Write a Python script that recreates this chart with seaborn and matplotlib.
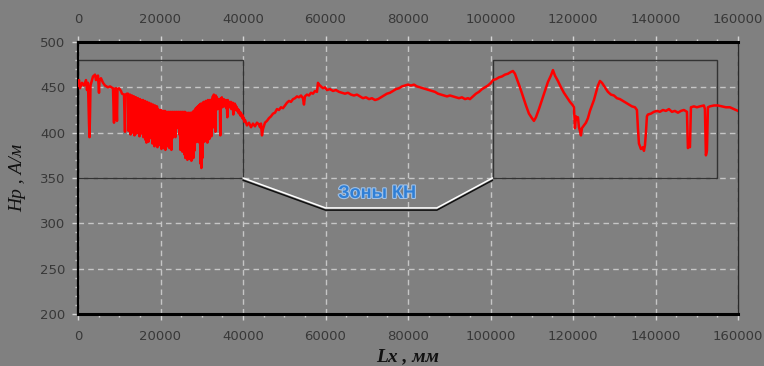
import numpy as np
import pandas as pd
import matplotlib
matplotlib.use("Agg")
import matplotlib.pyplot as plt
import matplotlib.patheffects as pe
from matplotlib.patches import Rectangle
from matplotlib.ticker import MultipleLocator
import seaborn as sns

# ---------------- data ----------------
head_mm = [0, 240, 480, 970, 1450, 1940, 2180, 2420, 2670, 2790,
           2910, 3030, 3390, 3640, 4120, 4360, 4600, 4850, 5090, 5210,
           5570, 6060, 6550, 7270, 7760, 8480, 8730, 8850, 9210, 9450,
           9570, 9940, 10420, 10670, 11150, 11390, 11510, 11880]
head_hp = [452, 458, 449, 455, 452, 458, 447, 455, 410, 395,
           420, 452, 458, 462, 464, 458, 461, 463, 444, 458,
           460, 455, 452, 450, 451, 449, 411, 448, 449, 413,
           448, 449, 446, 443, 442, 401, 442, 443]

# densely spiked section: one reading pair (upper / lower) per sample step
dense_start_mm = 12120
dense_step_mm = 242
dense_top = [443, 441, 442, 440, 441, 439, 440, 438, 439, 437, 438, 436,
             437, 436, 435, 436, 434, 435, 433, 434, 432, 433,
             431, 432, 430, 431, 429, 430, 428, 429, 426, 425,
             424, 425, 423, 424, 423, 424, 422, 423, 422, 423,
             422, 423, 422, 423, 422, 423, 422, 423, 422, 423,
             422, 423, 422, 423, 422, 423, 421, 422, 421, 422,
             421, 422, 421, 423, 424, 425, 427, 428, 429, 430,
             431, 432, 431, 433, 434, 433, 435, 434, 436, 435,
             436, 435, 437, 440, 442, 438, 441, 439, 437, 436,
             437, 438, 439, 436, 437, 435, 436, 434, 436, 434,
             433, 434, 432, 433, 431, 432, 430, 428, 426, 425,
             423, 422, 420, 419, 416]
dense_low = [402, 405, 398, 404, 400, 406, 397, 403, 399, 407, 401, 396,
             404, 399, 402, 395, 400, 392, 389, 398, 390, 401,
             394, 399, 388, 396, 385, 393, 390, 384, 398, 387,
             386, 382, 390, 383, 388, 381, 392, 385, 395, 383,
             389, 381, 394, 410, 418, 395, 415, 405, 419, 398,
             381, 386, 379, 390, 376, 372, 380, 370, 375, 371,
             378, 369, 376, 372, 380, 389, 395, 390, 398, 389,
             366, 361, 372, 395, 390, 400, 392, 389, 398, 393,
             402, 396, 405, 432, 428, 401, 425, 433, 430, 426,
             397, 431, 428, 432, 429, 430, 427, 417, 430, 428,
             429, 426, 428, 420, 427, 425, 426, 424, 422, 421,
             419, 418, 416, 415, 412]

tail_mm = [40480, 40960, 41450, 41940, 42420, 42900, 43390, 43870, 44120, 44360,
           44600, 44840, 45330, 45810, 46300, 46780, 47270, 47750, 48240, 48720,
           49210, 49690, 50180, 50660, 51150, 51630, 52120, 52600, 53090, 53570,
           54060, 54540, 54780, 55020, 55510, 55990, 56480, 56960, 57450, 57930,
           58180, 58420, 58900, 59390, 59870, 60360, 61080, 61810, 62540, 63270,
           63990, 64720, 65450, 66180, 66900, 67630, 68360, 69090, 69810, 70540,
           71270, 71990, 72720, 73450, 74170, 74900, 75630, 76360, 77080, 77810,
           78540, 79260, 79990, 80720, 81450, 82170, 82900, 83630, 84360, 85080,
           85810, 86540, 87260, 87990, 88720, 89450, 90170, 90900, 91630, 92360,
           93080, 93810, 94540, 95020, 95750, 96480, 97200, 97930, 98660, 99380,
           100110, 100600, 101320, 102050, 102780, 103500, 104230, 104960, 105440, 105930,
           106410, 107140, 107870, 108600, 109320, 110050, 110530, 111020, 111740, 112470,
           113200, 113930, 114650, 115140, 115620, 116350, 117080, 117800, 118530, 119260,
           119990, 120230, 120470, 120720, 120960, 121200, 121440, 121680, 121930, 122170,
           122650, 123140, 123620, 124110, 124590, 125080, 125560, 126050, 126530, 127020,
           127740, 128470, 129200, 129930, 130650, 131380, 132110, 132840, 133560, 134290,
           135020, 135500, 135740, 135990, 136470, 136960, 137200, 137440, 137680, 137920,
           138160, 138890, 139620, 140340, 141070, 141800, 142530, 143250, 143980, 144710,
           145440, 146160, 146890, 147620, 147860, 148110, 148350, 148590, 149320, 150040,
           150770, 151740, 151980, 152220, 152470, 152710, 153190, 154160, 155130, 156100,
           157070, 158040, 159010, 160000]
tail_hp = [414, 408, 411, 406, 410, 407, 411, 409, 406, 410,
           397, 404, 411, 413, 416, 418, 421, 422, 426, 425,
           428, 427, 430, 433, 435, 434, 437, 438, 440, 439,
           441, 438, 431, 440, 442, 441, 444, 443, 446, 445,
           455, 453, 451, 449, 450, 447, 448, 446, 447, 445,
           444, 443, 444, 442, 441, 442, 440, 438, 439, 437,
           438, 436, 437, 439, 441, 443, 444, 446, 448, 449,
           451, 452, 453, 452, 453, 451, 450, 449, 448, 447,
           446, 445, 443, 442, 441, 440, 441, 440, 439, 438,
           439, 437, 438, 437, 440, 443, 445, 448, 450, 452,
           455, 458, 459, 461, 462, 464, 465, 467, 468, 465,
           459, 450, 440, 430, 421, 416, 413, 417, 426, 436,
           446, 456, 463, 469, 463, 457, 450, 444, 439, 434,
           430, 428, 405, 418, 415, 417, 406, 402, 397, 405,
           408, 411, 416, 424, 430, 436, 444, 452, 457, 455,
           450, 445, 442, 441, 438, 437, 435, 433, 431, 429,
           428, 425, 405, 388, 382, 384, 380, 386, 400, 418,
           420, 421, 423, 424, 423, 425, 424, 426, 423, 424,
           422, 424, 425, 423, 383, 385, 384, 428, 429, 428,
           429, 430, 426, 375, 380, 428, 429, 430, 430, 429,
           428, 428, 426, 424]

x_ticks = [0, 20000, 40000, 60000, 80000, 100000, 120000, 140000, 160000]
y_ticks = [200, 250, 300, 350, 400, 450, 500]

zone_ranges_mm = [(0, 40000), (100500, 155000)]
zone_hp_range = (350, 480)
callout_mm = [40000, 60000, 87000, 100500]
callout_hp = [350, 317, 317, 350]
callout_text = "Зоны КН"
callout_pos = (72500, 333)

x_label = "Lx , мм"
y_label = "Нр , А/м"

# ---------------- assemble series ----------------
dense_mm, dense_hp = [], []
for i, (t, l) in enumerate(zip(dense_top, dense_low)):
    x = dense_start_mm + i * dense_step_mm
    dense_mm += [x, x + dense_step_mm / 2]
    dense_hp += [t, l]

df = pd.DataFrame({
    "mm": list(head_mm) + dense_mm + list(tail_mm),
    "hp": list(head_hp) + dense_hp + list(tail_hp),
})

# ---------------- plotting ----------------
sns.set_theme(style="white")
plt.rcParams["font.family"] = ["DejaVu Sans"]
plt.rcParams["path.simplify"] = False

BG = "#808080"
fig = plt.figure(figsize=(7.64, 3.66), dpi=100, facecolor=BG)
ax = fig.add_axes([78 / 764, 52 / 366, 660 / 764, 272 / 366])
ax.set_facecolor(BG)

ax.set_xlim(0, 160000)
ax.set_ylim(200, 500)

ax.grid(True, which="major", color="#c6c6c6", linestyle=(0, (4, 3)), linewidth=1)
ax.set_axisbelow(True)

for lo, hi in zone_ranges_mm:
    ax.add_patch(Rectangle((lo, zone_hp_range[0]), hi - lo,
                           zone_hp_range[1] - zone_hp_range[0],
                           fill=False, edgecolor="#333333", linewidth=1, zorder=2))

sns.lineplot(data=df, x="mm", y="hp", sort=False, estimator=None,
             color="#ff0000", linewidth=1.8, ax=ax, zorder=3)

ax.plot(callout_mm, callout_hp, color="white", linewidth=1.1, zorder=4,
        path_effects=[pe.SimpleLineShadow(offset=(0, -1.6), shadow_color="#111111", alpha=1),
                      pe.Normal()])

ax.text(callout_pos[0], callout_pos[1], callout_text, color="#2f7fd6",
        fontsize=13, fontweight="bold", family=["Liberation Sans", "DejaVu Sans"],
        ha="center", va="center", zorder=5,
        path_effects=[pe.withStroke(linewidth=1.6, foreground="#9fc0e6")])

ax.set_xticks(x_ticks)
ax.set_xticklabels([str(v) for v in x_ticks])
ax.set_yticks(y_ticks)
ax.set_yticklabels([str(v) for v in y_ticks])
ax.xaxis.set_minor_locator(MultipleLocator(5000))
ax.yaxis.set_minor_locator(MultipleLocator(10))

ax.tick_params(axis="x", which="both", top=True, bottom=True, labeltop=True,
               labelbottom=True, direction="out", color="#d4d4d4",
               labelcolor="#383838", labelsize=9.5)
ax.tick_params(axis="x", which="major", length=4, width=1, pad=7.5)
ax.tick_params(axis="x", which="minor", length=2.5, width=1)
ax.tick_params(axis="y", which="both", left=True, right=False, direction="out",
               color="#d4d4d4", labelcolor="#383838", labelsize=9.5)
ax.tick_params(axis="y", which="major", length=4, width=1, pad=5)
ax.tick_params(axis="y", which="minor", length=2.5, width=1)

for side, lw, col in [("top", 2.2, "black"), ("bottom", 2.2, "black"),
                      ("left", 1.6, "black"), ("right", 1.0, "#2a2a2a")]:
    ax.spines[side].set_visible(True)
    ax.spines[side].set_linewidth(lw)
    ax.spines[side].set_color(col)

ax.set_xlabel(x_label, fontsize=14, fontstyle="italic", fontweight="bold",
              family=["Liberation Serif", "DejaVu Serif"], color="#111111", labelpad=4)
ax.set_ylabel(y_label, fontsize=14, fontstyle="italic",
              family=["Liberation Serif", "DejaVu Serif"], color="#111111", labelpad=10)

fig.savefig("out.png", dpi=100, facecolor=BG)
